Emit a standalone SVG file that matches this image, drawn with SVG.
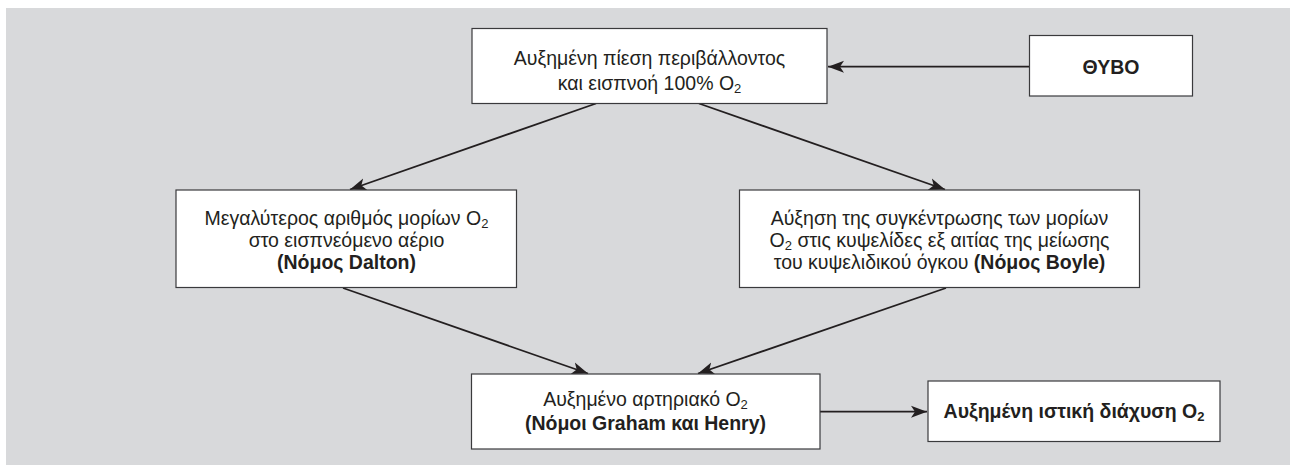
<svg xmlns="http://www.w3.org/2000/svg" width="1290" height="467" viewBox="0 0 1290 467">
<style>
.box{fill:#ffffff;stroke:#3a3a3c;stroke-width:1.2}
.t{font-family:"Liberation Sans","Open Sans",sans-serif;font-size:19.5px;fill:#231f20;text-anchor:middle}
.b{font-weight:bold}
.s{font-size:13px}
.c{stroke:#231f20;stroke-width:1.8;fill:none;marker-end:url(#ah)}
</style>
<defs>
<marker id="ah" markerUnits="userSpaceOnUse" markerWidth="18" markerHeight="14" viewBox="-16 -7 18 14" refX="0" refY="0" orient="auto">
<path d="M0,0 L-16,-6 L-12,0 L-16,6 Z" fill="#231f20"/>
</marker>
</defs>
<rect x="6" y="8" width="1284" height="457" fill="#d8d9db"/>
<g id="connectors">
<line class="c" x1="1029" y1="66.7" x2="828" y2="66.7"/>
<line class="c" x1="596" y1="103.5" x2="350" y2="189.5"/>
<line class="c" x1="699" y1="103.5" x2="945" y2="189.5"/>
<line class="c" x1="343" y1="288" x2="588" y2="373.5"/>
<line class="c" x1="946" y1="288" x2="698" y2="373.5"/>
<line class="c" x1="820" y1="411.7" x2="927" y2="411.7"/>
</g>
<g id="node-top">
<rect class="box" x="472" y="28.5" width="355" height="75"/>
<text class="t" x="649.5" y="65">Αυξημένη πίεση περιβάλλοντος<tspan x="649.5" y="90">και εισπνοή 100% O</tspan><tspan class="s" dy="2.5">2</tspan></text>
</g>
<g id="node-thybo">
<rect class="box" x="1029.5" y="35.5" width="163" height="60.5"/>
<text class="t b" x="1111" y="74">ΘΥΒΟ</text>
</g>
<g id="node-dalton">
<rect class="box" x="176" y="190" width="340.5" height="97.5"/>
<text class="t" x="346.5" y="225">Μεγαλύτερος αριθμός μορίων O<tspan class="s" dy="2.5">2</tspan><tspan x="346.5" y="247">στο εισπνεόμενο αέριο</tspan><tspan class="b" x="346.5" y="269">(Νόμος Dalton)</tspan></text>
</g>
<g id="node-boyle">
<rect class="box" x="739.5" y="190" width="400" height="97.5"/>
<text class="t" x="939.5" y="225">Αύξηση της συγκέντρωσης των μορίων<tspan x="939.5" y="247">O</tspan><tspan class="s" dy="2.5">2</tspan><tspan dy="-2.5"> στις κυψελίδες εξ αιτίας της μείωσης</tspan><tspan x="939.5" y="269">του κυψελιδικού όγκου </tspan><tspan class="b">(Νόμος Boyle)</tspan></text>
</g>
<g id="node-arterial">
<rect class="box" x="471.5" y="374" width="348.5" height="75"/>
<text class="t" x="645.5" y="406">Αυξημένο αρτηριακό O<tspan class="s" dy="2.5">2</tspan><tspan class="b" x="645.5" y="430">(Νόμοι Graham και Henry)</tspan></text>
</g>
<g id="node-tissue">
<rect class="box" x="928" y="381" width="292" height="60.5"/>
<text class="t b" x="1074" y="418">Αυξημένη ιστική διάχυση O<tspan class="s" dy="2.5">2</tspan></text>
</g>
</svg>
